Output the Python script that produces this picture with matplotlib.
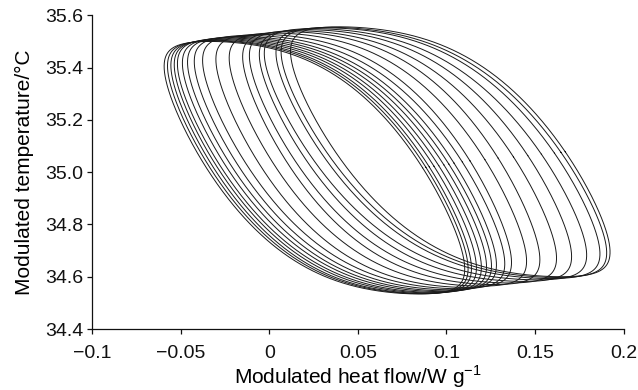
import numpy as np
import matplotlib
matplotlib.use("Agg")
import matplotlib.pyplot as plt
from matplotlib.ticker import FixedLocator, FixedFormatter

# Per-loop extents (loops ordered left -> right)
x_left = [-0.0593, -0.0574, -0.0555, -0.0536, -0.0518, -0.0490, -0.0461, -0.0423, -0.0376,
          -0.0301, -0.0226, -0.0150, -0.0112, -0.0056, -0.0028, 0.0038, 0.0067, 0.0120]
x_right = [0.1103, 0.1122, 0.1141, 0.1169, 0.1197, 0.1226, 0.1254, 0.1282, 0.1329,
           0.1367, 0.1452, 0.1527, 0.1621, 0.1706, 0.1791, 0.1866, 0.1904, 0.1923]
y_top = [35.500, 35.502, 35.504, 35.507, 35.510, 35.513, 35.516, 35.519, 35.523,
         35.527, 35.532, 35.537, 35.541, 35.545, 35.549, 35.552, 35.554, 35.556]
y_bottom = [34.534, 34.535, 34.536, 34.538, 34.540, 34.543, 34.546, 34.550, 34.554,
            34.559, 34.564, 34.570, 34.576, 34.582, 34.588, 34.593, 34.597, 34.600]
phase_lag_deg = 134.0      # heat-flow phase relative to temperature
temp_harmonic = 0.07       # flattening of the temperature wave

x_ticks = [-0.1, -0.05, 0, 0.05, 0.1, 0.15, 0.2]
x_tick_labels = ["\u22120.1", "\u22120.05", "0", "0.05", "0.1", "0.15", "0.2"]
y_ticks = [34.4, 34.6, 34.8, 35.0, 35.2, 35.4, 35.6]
y_tick_labels = ["34.4", "34.6", "34.8", "35.0", "35.2", "35.4", "35.6"]

plt.rcParams['font.family'] = ['Liberation Sans', 'DejaVu Sans']

fig = plt.figure(figsize=(6.38, 3.90), dpi=100)
ax = fig.add_axes([92/638, 1-329/390, (623.7-92)/638, (329-15.3)/390])

t = np.linspace(0, 2*np.pi, 800)
phi = np.deg2rad(phase_lag_deg)
b = temp_harmonic
wave = (np.sin(t) + b*np.sin(3*t)) / (1 - b)
for xl, xr, yt, yb in zip(x_left, x_right, y_top, y_bottom):
    xc, ax_amp = (xl + xr)/2, (xr - xl)/2
    yc, ay_amp = (yt + yb)/2, (yt - yb)/2
    ax.plot(xc + ax_amp*np.sin(t + phi), yc + ay_amp*wave,
            color='#1a1a1a', lw=0.7)

ax.set_xlim(-0.1, 0.2)
ax.set_ylim(34.4, 35.6)
ax.xaxis.set_major_locator(FixedLocator(x_ticks))
ax.xaxis.set_major_formatter(FixedFormatter(x_tick_labels))
ax.yaxis.set_major_locator(FixedLocator(y_ticks))
ax.yaxis.set_major_formatter(FixedFormatter(y_tick_labels))
for s in ['top', 'right']:
    ax.spines[s].set_visible(False)
for s in ['left', 'bottom']:
    ax.spines[s].set_linewidth(0.9)
    ax.spines[s].set_color('#111111')
ax.tick_params(direction='out', length=3.5, width=0.9, labelsize=14,
               colors='#111111')
ax.tick_params(axis='x', pad=8)
ax.tick_params(axis='y', pad=3)
ax.set_xlabel("Modulated heat flow/W g$^{\\mathregular{-1}}$", fontsize=15, labelpad=1)
ax.set_ylabel("Modulated temperature/\u00b0C", fontsize=15, labelpad=8)

fig.savefig("out.png", dpi=100)
